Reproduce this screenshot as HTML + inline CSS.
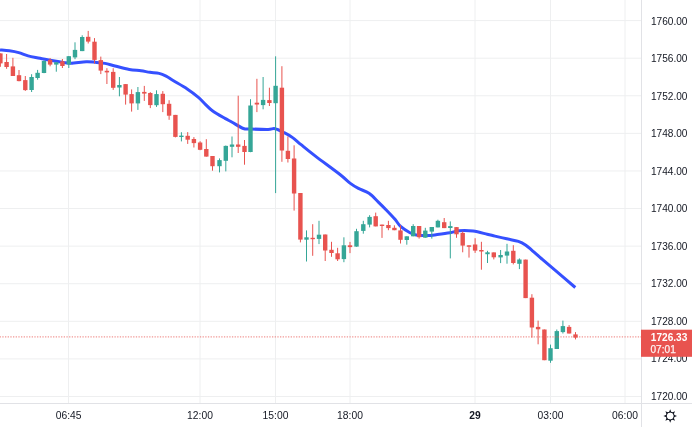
<!DOCTYPE html><html><head><meta charset="utf-8"><style>html,body{margin:0;padding:0;background:#fff;width:692px;height:427px;overflow:hidden}svg{display:block;will-change:transform}text{font-family:"Liberation Sans",sans-serif}</style></head><body>
<svg width="692" height="427" viewBox="0 0 692 427">
<g stroke="#eeeff0" stroke-width="1"><line x1="0" y1="20.60" x2="641" y2="20.60"/><line x1="0" y1="58.19" x2="641" y2="58.19"/><line x1="0" y1="95.78" x2="641" y2="95.78"/><line x1="0" y1="133.37" x2="641" y2="133.37"/><line x1="0" y1="170.96" x2="641" y2="170.96"/><line x1="0" y1="208.55" x2="641" y2="208.55"/><line x1="0" y1="246.14" x2="641" y2="246.14"/><line x1="0" y1="283.73" x2="641" y2="283.73"/><line x1="0" y1="321.32" x2="641" y2="321.32"/><line x1="0" y1="358.91" x2="641" y2="358.91"/><line x1="0" y1="396.50" x2="641" y2="396.50"/><line x1="68.5" y1="0" x2="68.5" y2="403"/><line x1="200.0" y1="0" x2="200.0" y2="403"/><line x1="275.5" y1="0" x2="275.5" y2="403"/><line x1="350.0" y1="0" x2="350.0" y2="403"/><line x1="475.0" y1="0" x2="475.0" y2="403"/><line x1="550.5" y1="0" x2="550.5" y2="403"/><line x1="625.0" y1="0" x2="625.0" y2="403"/></g>
<path d="M0.00,49.90 C1.57,50.05 6.28,50.35 9.40,50.80 C12.52,51.25 15.58,51.75 18.70,52.60 C21.82,53.45 24.55,54.97 28.10,55.90 C31.65,56.83 36.07,57.42 40.00,58.20 C43.93,58.98 47.80,59.88 51.70,60.60 C55.60,61.32 60.18,62.07 63.40,62.50 C66.62,62.93 67.20,63.32 71.00,63.20 C74.80,63.08 82.15,61.95 86.20,61.80 C90.25,61.65 92.17,62.03 95.30,62.30 C98.43,62.57 101.72,62.78 105.00,63.40 C108.28,64.02 110.95,65.00 115.00,66.00 C119.05,67.00 124.97,68.60 129.30,69.40 C133.63,70.20 137.55,70.32 141.00,70.80 C144.45,71.28 146.98,71.87 150.00,72.30 C153.02,72.73 156.42,72.75 159.10,73.40 C161.78,74.05 163.77,75.02 166.10,76.20 C168.43,77.38 169.58,78.38 173.10,80.50 C176.62,82.62 182.98,86.10 187.20,88.90 C191.42,91.70 195.37,94.73 198.40,97.30 C201.43,99.87 203.07,102.07 205.40,104.30 C207.73,106.53 209.13,108.35 212.40,110.70 C215.67,113.05 221.78,116.52 225.00,118.40 C228.22,120.28 228.63,120.32 231.70,122.00 C234.77,123.68 240.28,127.33 243.40,128.50 C246.52,129.67 246.28,128.85 250.40,129.00 C254.52,129.15 263.98,129.45 268.10,129.40 C272.22,129.35 272.42,128.15 275.10,128.70 C277.78,129.25 281.28,131.22 284.20,132.70 C287.12,134.18 289.78,135.60 292.60,137.60 C295.42,139.60 297.35,141.65 301.10,144.70 C304.85,147.75 308.62,150.93 315.10,155.90 C321.58,160.87 334.18,169.97 340.00,174.50 C345.82,179.03 346.93,180.78 350.00,183.10 C353.07,185.42 355.23,186.70 358.40,188.40 C361.57,190.10 365.72,191.07 369.00,193.30 C372.28,195.53 375.18,198.98 378.10,201.80 C381.02,204.62 383.68,207.28 386.50,210.20 C389.32,213.12 392.65,216.60 395.00,219.30 C397.35,222.00 398.10,224.17 400.60,226.40 C403.10,228.63 407.38,231.27 410.00,232.70 C412.62,234.13 413.37,234.52 416.30,235.00 C419.23,235.48 424.12,235.67 427.60,235.60 C431.08,235.53 433.47,235.07 437.20,234.60 C440.93,234.13 446.37,233.43 450.00,232.80 C453.63,232.17 455.15,231.08 459.00,230.80 C462.85,230.52 468.40,230.53 473.10,231.10 C477.80,231.67 483.55,233.37 487.20,234.20 C490.85,235.03 491.75,235.33 495.00,236.10 C498.25,236.87 502.80,237.92 506.70,238.80 C510.60,239.68 515.27,240.38 518.40,241.40 C521.53,242.42 523.15,243.33 525.50,244.90 C527.85,246.47 529.77,248.45 532.50,250.80 C535.23,253.15 538.15,255.78 541.90,259.00 C545.65,262.22 549.43,265.35 555.00,270.10 C560.57,274.85 571.92,284.60 575.30,287.50" fill="none" stroke="#3550ff" stroke-width="3" stroke-linejoin="round" stroke-linecap="butt"/>
<g fill="#e8534f"><rect x="-0.10" y="53.40" width="1" height="13.40"/><rect x="-1.80" y="53.40" width="4.4" height="10.00"/></g>
<g fill="#e8534f"><rect x="6.10" y="54.00" width="1" height="14.80"/><rect x="4.40" y="62.00" width="4.4" height="5.00"/></g>
<g fill="#e8534f"><rect x="12.40" y="57.80" width="1" height="18.20"/><rect x="10.70" y="66.40" width="4.4" height="9.60"/></g>
<g fill="#e8534f"><rect x="18.50" y="70.00" width="1" height="11.30"/><rect x="16.80" y="75.20" width="4.4" height="5.90"/></g>
<g fill="#e8534f"><rect x="24.80" y="76.00" width="1" height="14.90"/><rect x="23.10" y="80.10" width="4.4" height="10.00"/></g>
<g fill="#35a697"><rect x="31.10" y="74.20" width="1" height="17.80"/><rect x="29.40" y="77.00" width="4.4" height="13.00"/></g>
<g fill="#35a697"><rect x="37.10" y="69.90" width="1" height="9.80"/><rect x="35.40" y="72.80" width="4.4" height="5.20"/></g>
<g fill="#35a697"><rect x="43.50" y="60.30" width="1" height="12.90"/><rect x="41.80" y="61.00" width="4.4" height="12.00"/></g>
<g fill="#e8534f"><rect x="49.60" y="58.10" width="1" height="8.20"/><rect x="47.90" y="59.90" width="4.4" height="4.70"/></g>
<g fill="#35a697"><rect x="55.80" y="62.20" width="1" height="9.50"/><rect x="54.10" y="62.20" width="4.4" height="2.40"/></g>
<g fill="#e8534f"><rect x="61.90" y="59.00" width="1" height="9.00"/><rect x="60.20" y="61.30" width="4.4" height="4.70"/></g>
<g fill="#35a697"><rect x="68.30" y="56.00" width="1" height="12.00"/><rect x="66.60" y="56.20" width="4.4" height="8.30"/></g>
<g fill="#35a697"><rect x="74.50" y="42.30" width="1" height="16.90"/><rect x="72.80" y="49.90" width="4.4" height="7.50"/></g>
<g fill="#35a697"><rect x="81.70" y="35.30" width="1" height="15.80"/><rect x="80.00" y="37.00" width="4.4" height="14.10"/></g>
<g fill="#e8534f"><rect x="87.70" y="30.90" width="1" height="12.60"/><rect x="86.00" y="36.80" width="4.4" height="4.80"/></g>
<g fill="#e8534f"><rect x="94.00" y="38.10" width="1" height="25.50"/><rect x="92.30" y="41.70" width="4.4" height="18.20"/></g>
<g fill="#e8534f"><rect x="100.30" y="56.60" width="1" height="17.50"/><rect x="98.60" y="60.10" width="4.4" height="10.50"/></g>
<g fill="#e8534f"><rect x="106.40" y="68.20" width="1" height="15.80"/><rect x="104.70" y="70.80" width="4.4" height="1.60"/></g>
<g fill="#e8534f"><rect x="112.70" y="68.20" width="1" height="21.70"/><rect x="111.00" y="71.90" width="4.4" height="15.90"/></g>
<g fill="#35a697"><rect x="118.90" y="77.00" width="1" height="19.30"/><rect x="117.20" y="85.00" width="4.4" height="2.50"/></g>
<g fill="#e8534f"><rect x="125.10" y="84.10" width="1" height="20.50"/><rect x="123.40" y="84.10" width="4.4" height="10.50"/></g>
<g fill="#e8534f"><rect x="131.10" y="89.40" width="1" height="22.20"/><rect x="129.40" y="94.10" width="4.4" height="9.30"/></g>
<g fill="#35a697"><rect x="137.40" y="87.00" width="1" height="22.90"/><rect x="135.70" y="92.10" width="4.4" height="11.30"/></g>
<g fill="#e8534f"><rect x="143.80" y="85.90" width="1" height="15.00"/><rect x="142.10" y="91.90" width="4.4" height="1.70"/></g>
<g fill="#e8534f"><rect x="149.80" y="92.10" width="1" height="16.00"/><rect x="148.10" y="93.00" width="4.4" height="12.10"/></g>
<g fill="#35a697"><rect x="156.00" y="90.30" width="1" height="16.60"/><rect x="154.30" y="94.10" width="4.4" height="11.10"/></g>
<g fill="#e8534f"><rect x="162.30" y="91.10" width="1" height="21.00"/><rect x="160.60" y="93.80" width="4.4" height="10.40"/></g>
<g fill="#e8534f"><rect x="168.60" y="100.20" width="1" height="19.60"/><rect x="166.90" y="103.80" width="4.4" height="11.90"/></g>
<g fill="#e8534f"><rect x="174.90" y="114.90" width="1" height="22.50"/><rect x="173.20" y="114.90" width="4.4" height="22.00"/></g>
<g fill="#35a697"><rect x="180.90" y="132.20" width="1" height="9.20"/><rect x="179.20" y="135.60" width="4.4" height="1.40"/></g>
<g fill="#e8534f"><rect x="187.20" y="132.10" width="1" height="11.80"/><rect x="185.50" y="135.80" width="4.4" height="3.90"/></g>
<g fill="#e8534f"><rect x="193.40" y="137.10" width="1" height="10.40"/><rect x="191.70" y="139.00" width="4.4" height="4.10"/></g>
<g fill="#e8534f"><rect x="199.60" y="141.20" width="1" height="9.00"/><rect x="197.90" y="142.50" width="4.4" height="7.30"/></g>
<g fill="#e8534f"><rect x="205.80" y="139.20" width="1" height="17.40"/><rect x="204.10" y="149.00" width="4.4" height="7.60"/></g>
<g fill="#e8534f"><rect x="212.00" y="156.00" width="1" height="14.70"/><rect x="210.30" y="156.00" width="4.4" height="10.20"/></g>
<g fill="#35a697"><rect x="219.00" y="158.40" width="1" height="14.00"/><rect x="217.30" y="160.10" width="4.4" height="6.10"/></g>
<g fill="#35a697"><rect x="225.30" y="145.50" width="1" height="25.90"/><rect x="223.60" y="145.90" width="4.4" height="14.90"/></g>
<g fill="#35a697"><rect x="231.50" y="136.50" width="1" height="20.80"/><rect x="229.80" y="144.50" width="4.4" height="2.30"/></g>
<g fill="#e8534f"><rect x="237.70" y="95.70" width="1" height="57.30"/><rect x="236.00" y="144.50" width="4.4" height="2.30"/></g>
<g fill="#e8534f"><rect x="244.00" y="140.00" width="1" height="24.70"/><rect x="242.30" y="145.90" width="4.4" height="6.10"/></g>
<g fill="#35a697"><rect x="250.00" y="99.20" width="1" height="53.00"/><rect x="248.30" y="105.50" width="4.4" height="46.50"/></g>
<g fill="#e8534f"><rect x="256.40" y="78.80" width="1" height="33.30"/><rect x="254.70" y="102.70" width="4.4" height="1.80"/></g>
<g fill="#35a697"><rect x="262.60" y="77.00" width="1" height="32.30"/><rect x="260.90" y="99.90" width="4.4" height="5.20"/></g>
<g fill="#e8534f"><rect x="268.90" y="87.70" width="1" height="18.30"/><rect x="267.20" y="100.10" width="4.4" height="2.90"/></g>
<g fill="#35a697"><rect x="275.10" y="56.30" width="1" height="136.80"/><rect x="273.40" y="85.80" width="4.4" height="17.40"/></g>
<g fill="#e8534f"><rect x="281.40" y="66.20" width="1" height="95.60"/><rect x="279.70" y="87.70" width="4.4" height="62.80"/></g>
<g fill="#e8534f"><rect x="287.40" y="136.40" width="1" height="26.10"/><rect x="285.70" y="150.80" width="4.4" height="8.20"/></g>
<g fill="#e8534f"><rect x="293.60" y="145.30" width="1" height="65.30"/><rect x="291.90" y="158.50" width="4.4" height="35.00"/></g>
<g fill="#e8534f"><rect x="299.90" y="193.00" width="1" height="49.40"/><rect x="298.20" y="193.00" width="4.4" height="46.60"/></g>
<g fill="#35a697"><rect x="306.00" y="230.40" width="1" height="31.10"/><rect x="304.30" y="237.30" width="4.4" height="2.40"/></g>
<g fill="#e8534f"><rect x="312.20" y="224.20" width="1" height="31.60"/><rect x="310.50" y="237.80" width="4.4" height="1.40"/></g>
<g fill="#35a697"><rect x="318.50" y="220.80" width="1" height="23.30"/><rect x="316.80" y="234.70" width="4.4" height="4.20"/></g>
<g fill="#e8534f"><rect x="324.70" y="234.50" width="1" height="26.50"/><rect x="323.00" y="234.50" width="4.4" height="16.00"/></g>
<g fill="#e8534f"><rect x="331.00" y="241.80" width="1" height="15.00"/><rect x="329.30" y="249.80" width="4.4" height="3.20"/></g>
<g fill="#e8534f"><rect x="337.10" y="247.80" width="1" height="13.20"/><rect x="335.40" y="253.30" width="4.4" height="6.00"/></g>
<g fill="#35a697"><rect x="343.40" y="237.30" width="1" height="24.90"/><rect x="341.70" y="245.30" width="4.4" height="13.80"/></g>
<g fill="#e8534f"><rect x="349.50" y="241.90" width="1" height="11.20"/><rect x="347.80" y="245.30" width="4.4" height="1.80"/></g>
<g fill="#35a697"><rect x="356.00" y="228.80" width="1" height="17.90"/><rect x="354.30" y="231.20" width="4.4" height="15.40"/></g>
<g fill="#35a697"><rect x="362.80" y="220.80" width="1" height="12.90"/><rect x="361.10" y="224.20" width="4.4" height="6.70"/></g>
<g fill="#35a697"><rect x="369.10" y="215.20" width="1" height="12.20"/><rect x="367.40" y="216.90" width="4.4" height="7.70"/></g>
<g fill="#e8534f"><rect x="375.20" y="212.60" width="1" height="13.80"/><rect x="373.50" y="216.20" width="4.4" height="10.20"/></g>
<g fill="#e8534f"><rect x="381.50" y="224.60" width="1" height="13.30"/><rect x="379.80" y="224.60" width="4.4" height="1.40"/></g>
<g fill="#e8534f"><rect x="387.90" y="220.80" width="1" height="9.40"/><rect x="386.20" y="225.00" width="4.4" height="3.10"/></g>
<g fill="#e8534f"><rect x="393.90" y="225.30" width="1" height="4.90"/><rect x="392.20" y="227.80" width="4.4" height="2.40"/></g>
<g fill="#e8534f"><rect x="400.00" y="225.30" width="1" height="18.20"/><rect x="398.30" y="230.40" width="4.4" height="9.40"/></g>
<g fill="#35a697"><rect x="406.30" y="236.30" width="1" height="8.40"/><rect x="404.60" y="236.30" width="4.4" height="3.70"/></g>
<g fill="#35a697"><rect x="412.70" y="224.20" width="1" height="12.10"/><rect x="411.00" y="226.00" width="4.4" height="10.30"/></g>
<g fill="#e8534f"><rect x="418.60" y="226.00" width="1" height="12.60"/><rect x="416.90" y="226.00" width="4.4" height="11.20"/></g>
<g fill="#35a697"><rect x="424.80" y="227.80" width="1" height="9.90"/><rect x="423.10" y="230.60" width="4.4" height="7.10"/></g>
<g fill="#35a697"><rect x="431.30" y="227.00" width="1" height="11.60"/><rect x="429.60" y="227.00" width="4.4" height="4.60"/></g>
<g fill="#35a697"><rect x="437.40" y="219.70" width="1" height="7.70"/><rect x="435.70" y="220.80" width="4.4" height="6.60"/></g>
<g fill="#e8534f"><rect x="443.70" y="218.00" width="1" height="10.10"/><rect x="442.00" y="222.20" width="4.4" height="5.90"/></g>
<g fill="#35a697"><rect x="449.80" y="221.40" width="1" height="37.00"/><rect x="448.10" y="226.10" width="4.4" height="1.90"/></g>
<g fill="#e8534f"><rect x="456.00" y="227.00" width="1" height="10.80"/><rect x="454.30" y="227.10" width="4.4" height="7.20"/></g>
<g fill="#e8534f"><rect x="462.20" y="231.40" width="1" height="20.90"/><rect x="460.50" y="232.90" width="4.4" height="12.70"/></g>
<g fill="#e8534f"><rect x="468.50" y="245.30" width="1" height="12.30"/><rect x="466.80" y="245.30" width="4.4" height="1.50"/></g>
<g fill="#e8534f"><rect x="474.60" y="238.20" width="1" height="14.70"/><rect x="472.90" y="244.50" width="4.4" height="6.10"/></g>
<g fill="#e8534f"><rect x="480.90" y="241.80" width="1" height="27.90"/><rect x="479.20" y="250.00" width="4.4" height="1.50"/></g>
<g fill="#35a697"><rect x="487.00" y="250.80" width="1" height="12.20"/><rect x="485.30" y="252.30" width="4.4" height="1.90"/></g>
<g fill="#e8534f"><rect x="493.30" y="252.40" width="1" height="7.00"/><rect x="491.60" y="252.40" width="4.4" height="4.90"/></g>
<g fill="#35a697"><rect x="500.10" y="250.00" width="1" height="13.10"/><rect x="498.40" y="255.00" width="4.4" height="2.40"/></g>
<g fill="#35a697"><rect x="506.50" y="243.80" width="1" height="19.90"/><rect x="504.80" y="251.50" width="4.4" height="4.10"/></g>
<g fill="#e8534f"><rect x="512.80" y="245.20" width="1" height="19.20"/><rect x="511.10" y="250.80" width="4.4" height="12.20"/></g>
<g fill="#35a697"><rect x="518.90" y="258.40" width="1" height="10.70"/><rect x="517.20" y="259.50" width="4.4" height="4.30"/></g>
<g fill="#e8534f"><rect x="525.10" y="259.60" width="1" height="38.50"/><rect x="523.40" y="259.60" width="4.4" height="38.50"/></g>
<g fill="#e8534f"><rect x="531.40" y="294.20" width="1" height="43.40"/><rect x="529.70" y="297.70" width="4.4" height="29.80"/></g>
<g fill="#e8534f"><rect x="537.60" y="320.60" width="1" height="23.70"/><rect x="535.90" y="326.90" width="4.4" height="2.40"/></g>
<g fill="#e8534f"><rect x="543.90" y="329.50" width="1" height="30.70"/><rect x="542.20" y="329.50" width="4.4" height="30.70"/></g>
<g fill="#35a697"><rect x="550.00" y="344.60" width="1" height="18.20"/><rect x="548.30" y="348.20" width="4.4" height="12.50"/></g>
<g fill="#35a697"><rect x="556.30" y="329.50" width="1" height="19.50"/><rect x="554.60" y="331.10" width="4.4" height="17.90"/></g>
<g fill="#35a697"><rect x="562.40" y="320.60" width="1" height="12.90"/><rect x="560.70" y="326.10" width="4.4" height="6.00"/></g>
<g fill="#e8534f"><rect x="568.60" y="325.10" width="1" height="8.40"/><rect x="566.90" y="326.90" width="4.4" height="6.60"/></g>
<g fill="#e8534f"><rect x="575.00" y="332.10" width="1" height="7.30"/><rect x="573.30" y="334.40" width="4.4" height="3.20"/></g>
<line x1="0" y1="336.9" x2="641" y2="336.9" stroke="#e8534f" stroke-width="1.1" stroke-dasharray="1.3 1.37" stroke-dashoffset="0.35" opacity="0.6"/>
<line x1="641.5" y1="0" x2="641.5" y2="427" stroke="#e1e2e6" stroke-width="1"/>
<line x1="0" y1="403.5" x2="692" y2="403.5" stroke="#e1e2e6" stroke-width="1"/>
<g fill="#131722" font-size="10.1"><text x="651" y="24.60">1760.00</text><text x="651" y="62.10">1756.00</text><text x="651" y="99.60">1752.00</text><text x="651" y="137.10">1748.00</text><text x="651" y="174.60">1744.00</text><text x="651" y="212.10">1740.00</text><text x="651" y="249.60">1736.00</text><text x="651" y="287.10">1732.00</text><text x="651" y="324.60">1728.00</text><text x="651" y="362.10">1724.00</text><text x="651" y="399.60">1720.00</text></g>
<rect x="641" y="329.7" width="51" height="27.1" fill="#e8534f"/>
<text x="650.8" y="341" fill="#fff" font-size="10.1" font-weight="bold">1726.33</text>
<text x="650.5" y="353.0" fill="#fff" stroke="#fff" stroke-width="0.25" opacity="0.92" font-size="10.1">07:01</text>
<g fill="#131722" font-size="10.3"><text x="68.6" y="418.8" text-anchor="middle">06:45</text><text x="200.0" y="418.8" text-anchor="middle">12:00</text><text x="275.5" y="418.8" text-anchor="middle">15:00</text><text x="350.0" y="418.8" text-anchor="middle">18:00</text><text x="475.0" y="418.8" text-anchor="middle" font-weight="bold">29</text><text x="550.5" y="418.8" text-anchor="middle">03:00</text><text x="625.0" y="418.8" text-anchor="middle">06:00</text></g>
<circle cx="670.2" cy="416.0" r="4.0" fill="none" stroke="#131722" stroke-width="1.0"/><polygon points="674.02,414.82 677.00,416.00 674.02,417.18" fill="#131722"/><polygon points="673.74,417.87 675.01,420.81 672.07,419.54" fill="#131722"/><polygon points="671.38,419.82 670.20,422.80 669.02,419.82" fill="#131722"/><polygon points="668.33,419.54 665.39,420.81 666.66,417.87" fill="#131722"/><polygon points="666.38,417.18 663.40,416.00 666.38,414.82" fill="#131722"/><polygon points="666.66,414.13 665.39,411.19 668.33,412.46" fill="#131722"/><polygon points="669.02,412.18 670.20,409.20 671.38,412.18" fill="#131722"/><polygon points="672.07,412.46 675.01,411.19 673.74,414.13" fill="#131722"/>
</svg></body></html>
